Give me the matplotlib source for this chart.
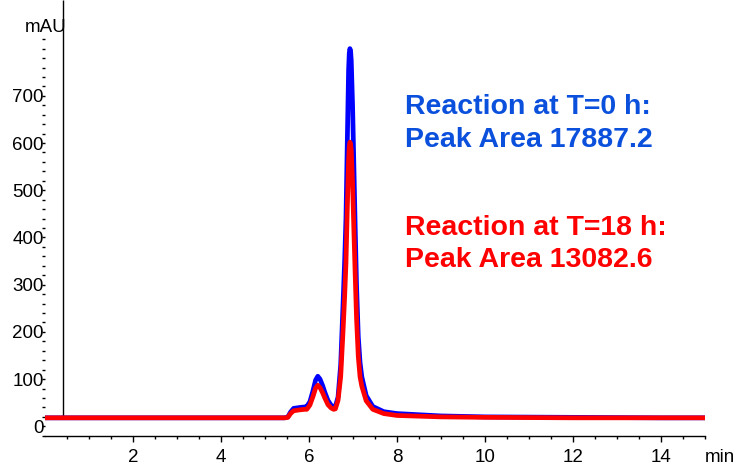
"""HPLC trace: reaction mixture at T=0 h vs T=18 h (overlay, same column/method)."""
import matplotlib
matplotlib.use("Agg")
import matplotlib.pyplot as plt  # noqa: E402
from matplotlib.ticker import FixedLocator, NullFormatter  # noqa: E402

plt.rcParams["font.family"] = ["Liberation Sans", "DejaVu Sans"]

# retention time (min) and absorbance (mAU)
times = [0.0, 1.0, 2.0, 3.0, 4.0, 5.0, 5.45, 5.52, 5.58, 5.65, 5.80, 5.90,
         5.95, 6.02, 6.09, 6.15, 6.20, 6.25, 6.31, 6.36, 6.43, 6.50, 6.56,
         6.60, 6.66, 6.72, 6.77, 6.81, 6.84, 6.87, 6.90, 6.915, 6.93, 6.945,
         6.96, 6.99, 7.02, 7.05, 7.08, 7.12, 7.16, 7.20, 7.30, 7.45, 7.70,
         8.00, 9.00, 10.0, 12.0, 14.0, 15.0]
mau_t0 = [18, 18, 18, 18, 18, 18, 18, 20, 30, 38, 40, 41,
          42, 52, 75, 98, 106, 100, 86, 72, 55, 45, 41,
          42, 62, 130, 250, 350, 440, 600, 755, 790, 800, 795,
          775, 680, 550, 420, 300, 190, 135, 105, 65, 42, 31,
          27, 22, 20, 19, 18, 18]
mau_t18 = [18, 18, 18, 18, 18, 18, 18, 19, 27, 33, 35, 36,
           36, 45, 63, 81, 87, 82, 71, 60, 46, 39, 36,
           37, 55, 105, 195, 275, 345, 460, 565, 592, 602, 598,
           585, 515, 415, 320, 230, 148, 105, 85, 54, 36, 27,
           23, 20, 19, 18, 18, 18]

injection_time = 0.42
label_t0 = ["Reaction at T=0 h:", "Peak Area 17887.2"]
label_t18 = ["Reaction at T=18 h:", "Peak Area 13082.6"]

W, H = 738, 466
fig = plt.figure(figsize=(W / 100, H / 100), dpi=100)
ax = fig.add_axes([45 / W, 30 / H, 660 / W, 436 / H])

ax.plot(times, mau_t0, color="#0000ff", lw=3.4, solid_joinstyle="round", zorder=2)
ax.plot(times, mau_t18, color="#ff0000", lw=3.4, solid_joinstyle="round", zorder=3)
ax.vlines(injection_time, mau_t0[0], 903, color="black", lw=1, zorder=1)

ax.set_xlim(0, 15)
ax.set_ylim(-20.5, 903)

for side in ("top", "right", "left"):
    ax.spines[side].set_visible(False)
ax.spines["bottom"].set_linewidth(1)

ax.xaxis.set_major_locator(FixedLocator(range(2, 15, 2)))
ax.xaxis.set_minor_locator(FixedLocator([x / 2 for x in range(1, 31) if x % 4]))
ax.yaxis.set_major_locator(FixedLocator(range(0, 701, 100)))
ax.yaxis.set_minor_locator(FixedLocator([y for y in range(-20, 821, 20) if y % 100 or y > 700]))
ax.yaxis.set_minor_formatter(NullFormatter())

ax.tick_params(axis="x", which="major", length=4.5, width=1, pad=5, labelsize=13.5)
ax.tick_params(axis="x", which="minor", length=2.5, width=1)
ax.tick_params(axis="y", which="both", length=2, width=1, pad=-1, labelsize=13.5)

blue_txt = "#0a50dc"
for y, line in zip([662, 591], label_t0):
    ax.text(8.18, y, line, color=blue_txt, fontsize=20.5, fontweight="bold", va="baseline")
for y, line in zip([405, 338], label_t18):
    ax.text(8.18, y, line, color="#ff0000", fontsize=20.5, fontweight="bold", va="baseline")

fig.text(25 / W, 1 - 32 / H, "mAU", fontsize=13.5, va="baseline", ha="left")
fig.text(705 / W, 1 - 462 / H, "min", fontsize=13.5, va="baseline", ha="left")

fig.savefig("out.png", dpi=100)
